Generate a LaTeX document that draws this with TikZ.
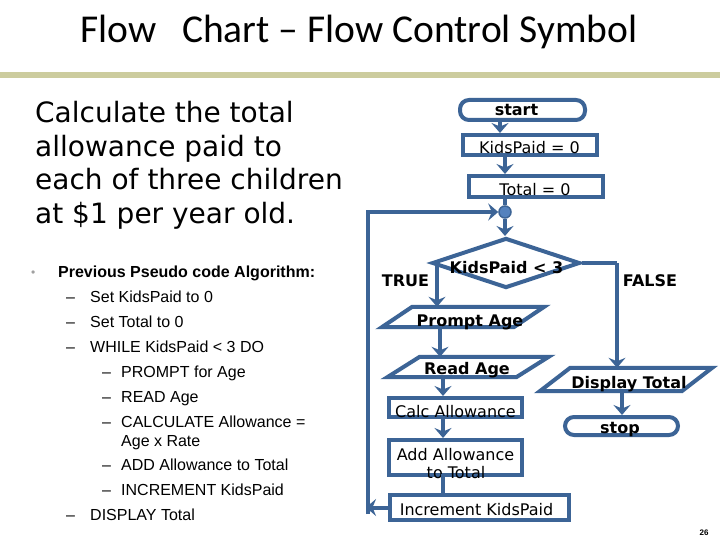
\documentclass[tikz,border=0pt]{standalone}
\usepackage{fontspec}
\setmainfont{DejaVu Sans}
\newfontfamily\titlefont{Carlito}
\newfontfamily\arialfont{Liberation Sans}
\usetikzlibrary{shapes.geometric,arrows.meta,calc}
\definecolor{fc}{RGB}{60,100,150}
\definecolor{olivebar}{RGB}{204,204,158}
\definecolor{cfill}{RGB}{84,130,190}
\definecolor{bulletgray}{RGB}{160,160,160}
\begin{document}
\begin{tikzpicture}[x=1pt,y=-1pt,
  flow/.style={draw=fc, line width=4pt},
  box/.style={flow, rectangle, inner sep=0pt},
  term/.style={flow, rectangle, rounded corners=9pt, inner sep=0pt},
  pframe/.style={rectangle, inner sep=0pt},
  arr/.style={draw=fc, line width=4pt, -{Stealth[length=10pt,width=17pt,inset=3.5pt]}},
  ln/.style={draw=fc, line width=4pt},
  lbl/.style={font=\fontsize{16}{18}\selectfont, anchor=base, inner sep=0pt},
  blbl/.style={font=\fontsize{16}{18}\selectfont\bfseries, anchor=base, inner sep=0pt},
  big/.style={font=\fontsize{28}{30}\selectfont, anchor=base west, inner sep=0pt},
  pseudo/.style={font=\arialfont\fontsize{16}{18}\selectfont, anchor=base west, inner sep=0pt},
]
\fill[white] (0,0) rectangle (720,540);
\useasboundingbox (0,0) rectangle (720,540);

% title and bar
\node[anchor=base, inner sep=0pt, font=\titlefont\fontsize{39.5}{44}\selectfont] (title) at (359,43) {Flow\hspace{0.65em}Chart – Flow Control Symbol};
\fill[olivebar] (0,72) rectangle (720,78);

% left text
\node[big] (l1) at (35,123) {Calculate the total};
\node[big] (l2) at (35,157) {allowance paid to};
\node[big] (l3) at (35,190) {each of three children};
\node[big] (l4) at (35,223) {at \$1 per year old.};

\node[pseudo, text=bulletgray, font=\arialfont\fontsize{12}{14}\selectfont] (b0) at (31,276) {•};
\node[pseudo, font=\arialfont\fontsize{16}{18}\selectfont\bfseries] (h0) at (58,277) {Previous Pseudo code Algorithm:};
\node[pseudo] (d1) at (66,302) {–};
\node[pseudo] (t1) at (90,302) {Set KidsPaid to 0};
\node[pseudo] (d2) at (66,327) {–};
\node[pseudo] (t2) at (90,327) {Set Total to 0};
\node[pseudo] (d3) at (66,352) {–};
\node[pseudo] (t3) at (90,352) {WHILE KidsPaid < 3 DO};
\node[pseudo] (d4) at (102,377) {–};
\node[pseudo] (t4) at (121,377) {PROMPT for Age};
\node[pseudo] (d5) at (102,402) {–};
\node[pseudo] (t5) at (121,402) {READ Age};
\node[pseudo] (d6) at (102,427) {–};
\node[pseudo] (t6) at (121,427) {CALCULATE Allowance =};
\node[pseudo] (t6b) at (121,446) {Age x Rate};
\node[pseudo] (d7) at (102,470) {–};
\node[pseudo] (t7) at (121,470) {ADD Allowance to Total};
\node[pseudo] (d8) at (102,495) {–};
\node[pseudo] (t8) at (121,495) {INCREMENT KidsPaid};
\node[pseudo] (d9) at (66,520) {–};
\node[pseudo] (t9) at (90,520) {DISPLAY Total};

% flowchart shapes
\node[term, minimum width=125pt, minimum height=20pt] (start) at (522.5,110) {};
\node[box, minimum width=134pt, minimum height=20pt] (kp) at (530,145) {};
\node[box, minimum width=134pt, minimum height=21pt] (tot) at (536,186.5) {};
\node[circle, draw=fc, line width=1.5pt, fill=cfill, minimum size=12pt, inner sep=0pt] (circ) at (505,212) {};
\node[flow, diamond, minimum width=148pt, minimum height=50pt, inner sep=0pt] (dm) at (506,263) {};
\node[pframe, minimum width=162pt, minimum height=20pt] (pa) at (463,317) {};
\draw[flow] (pa.south west) -- ++(132,0) -- (pa.north east) -- ++(-132,0) -- cycle;
\node[pframe, minimum width=161pt, minimum height=20pt] (ra) at (468,367) {};
\draw[flow] (ra.south west) -- ++(129,0) -- (ra.north east) -- ++(-129,0) -- cycle;
\node[box, minimum width=133pt, minimum height=19pt] (calc) at (455.5,407.5) {};
\node[box, minimum width=133pt, minimum height=35pt] (add) at (455.5,457.5) {};
\node[box, minimum width=179pt, minimum height=25pt] (incr) at (479.5,507.5) {};
\node[pframe, minimum width=172pt, minimum height=23pt] (dt) at (626,379.5) {};
\draw[flow] (dt.south west) -- ++(142,0) -- (dt.north east) -- ++(-142,0) -- cycle;
\node[term, minimum width=113pt, minimum height=18pt] (stop) at (621.5,426) {};

% labels
\node[blbl] (startT) at (516.5,116) {start};
\node[lbl] (kpT) at (529.5,154) {KidsPaid = 0};
\node[lbl] (totT) at (535,196) {Total = 0};
\node[blbl] (dmT) at (506.5,273) {KidsPaid < 3};
\node[blbl] (trueT) at (405.5,286) {TRUE};
\node[blbl] (falseT) at (650,286) {FALSE};
\node[blbl] (paT) at (470,326) {Prompt Age};
\node[blbl] (raT) at (467,374) {Read Age};
\node[lbl] (calcT) at (455.5,417) {Calc Allowance};
\node[lbl] (addT1) at (455.5,460) {Add Allowance};
\node[lbl] (addT2) at (456,478) {to Total};
\node[lbl] (incrT) at (476.5,515) {Increment KidsPaid};
\node[blbl] (dtT) at (629,388) {Display Total};
\node[blbl] (stopT) at (620,433) {stop};
\node[anchor=base, inner sep=0pt, font=\arialfont\fontsize{8}{9}\selectfont\bfseries] (pg) at (704,535) {26};

% connectors
\coordinate (s1) at (500,120);
\draw[arr] (s1) -- (s1 |- kp.north);
\coordinate (k1) at (505,155);
\draw[arr] (k1) -- (k1 |- tot.north);
\draw[ln] (tot.south -| circ) -- (circ.north);
\draw[arr] (circ.south) -- (circ |- dm.north);
\coordinate (tb) at (437,265);
\draw[arr] (tb) -- (tb |- pa.north);
\coordinate (fx) at (617,263);
\draw[ln] (dm.east) -- (fx);
\draw[arr] (fx) -- (fx |- dt.north);
\coordinate (p1) at (440,326);
\draw[arr] (p1) -- (p1 |- ra.north);
\coordinate (r1) at (443,376);
\draw[arr] (r1) -- (r1 |- calc.north);
\coordinate (c1) at (443,416);
\draw[arr] (c1) -- (c1 |- add.north);
\coordinate (a1) at (443,474);
\draw[ln] (a1) -- (a1 |- incr.north);
\coordinate (d1c) at (622,390);
\draw[arr] (d1c) -- (d1c |- stop.north);
% loop back
\coordinate (la) at (366,507.5);
\draw[arr] (incr.west) -- (la);
\coordinate (lb) at (368,514);
\draw[arr] (lb) |- (circ.west);
\end{tikzpicture}
\end{document}
